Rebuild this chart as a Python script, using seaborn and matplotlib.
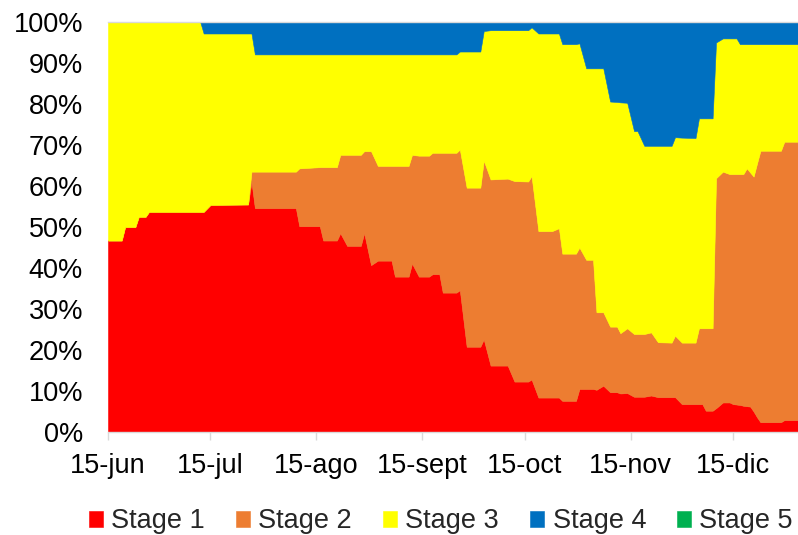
import numpy as np
import pandas as pd
import matplotlib
matplotlib.use("Agg")
import matplotlib.pyplot as plt
import seaborn as sns

# ---- data (share of each stage, %) ----
start_date = "2020-06-15"
day_offset = [0, 4, 5, 8, 9, 11, 12, 27, 28, 30, 41, 42, 43, 55, 56, 62, 63, 67, 68, 70,
              74, 75, 77, 79, 83, 84, 88, 89, 91, 94, 95, 97, 98, 102, 103, 105, 109, 110, 112, 117,
              119, 123, 124, 126, 130, 132, 133, 137, 138, 140, 142, 143, 145, 147, 149, 150, 152, 154, 155, 157,
              159, 161, 165, 166, 168, 172, 173, 174, 175, 177, 178, 180, 182, 183, 184, 185, 186, 187, 188, 189,
              190, 191, 197, 198, 202]
stage1 = [46.7, 46.7, 50.0, 50.0, 52.5, 52.5, 53.7, 53.7, 53.7, 55.4, 55.5, 61.0, 54.6, 54.6, 50.2, 50.2, 46.7, 46.7, 48.5, 45.4,
          45.4, 48.5, 40.7, 41.8, 41.8, 37.9, 37.9, 41.1, 37.9, 37.9, 38.5, 38.5, 34.0, 34.0, 34.6, 20.8, 20.8, 22.6, 16.2, 16.2,
          12.3, 12.3, 12.8, 8.4, 8.4, 8.4, 7.6, 7.6, 10.5, 10.5, 10.5, 10.3, 11.3, 9.7, 9.7, 9.4, 9.5, 8.6, 8.6, 8.6,
          8.9, 8.5, 8.5, 8.5, 6.8, 6.8, 6.8, 6.8, 5.2, 5.2, 5.8, 7.2, 7.2, 6.8, 6.7, 6.6, 6.4, 6.3, 6.2, 5.0,
          3.6, 2.4, 2.4, 2.9, 2.9]
stage2 = [0, 0, 0, 0, 0, 0, 0, 0, 0, 0, 0, 2.5, 8.9, 8.9, 14.1, 14.4, 17.9, 17.9, 19.1, 22.2,
          22.2, 20.0, 27.8, 23.1, 23.1, 27.0, 27.0, 26.5, 29.5, 29.5, 29.6, 29.6, 34.1, 34.1, 34.3, 38.8, 38.8, 43.6, 45.4, 45.6,
          48.9, 48.8, 49.6, 40.6, 40.6, 41.3, 35.9, 35.9, 34.5, 31.5, 31.5, 18.9, 17.9, 16.0, 16.0, 14.7, 15.8, 15.3, 15.3, 15.3,
          15.4, 13.4, 13.3, 15.0, 15.0, 15.0, 18.5, 18.5, 20.1, 20.1, 56.1, 56.3, 55.7, 56.1, 56.2, 56.3, 56.5, 58.0, 57.1, 57.3,
          61.9, 66.2, 66.2, 67.9, 67.9]
stage3 = [53.3, 53.3, 50.0, 50.0, 47.5, 47.5, 46.3, 46.3, 43.5, 41.8, 41.7, 33.7, 28.6, 28.6, 27.8, 27.5, 27.5, 27.5, 24.5, 24.5,
          24.5, 23.6, 23.6, 27.2, 27.2, 27.2, 27.2, 24.5, 24.7, 24.7, 24.0, 24.0, 24.0, 24.0, 23.9, 33.2, 33.2, 31.6, 36.4, 36.2,
          36.8, 36.9, 36.3, 48.2, 48.2, 47.5, 51.1, 51.1, 49.8, 46.7, 46.7, 59.5, 59.5, 54.9, 54.8, 56.3, 55.0, 49.5, 49.5, 45.9,
          45.5, 47.9, 48.0, 48.4, 50.0, 49.9, 51.2, 51.2, 51.2, 51.2, 33.1, 32.5, 33.1, 33.1, 33.1, 31.7, 31.7, 30.3, 31.3, 32.3,
          29.1, 26.0, 26.0, 23.8, 23.8]
stage4 = [0, 0, 0, 0, 0, 0, 0, 0, 2.8, 2.8, 2.8, 2.8, 7.9, 7.9, 7.9, 7.9, 7.9, 7.9, 7.9, 7.9,
          7.9, 7.9, 7.9, 7.9, 7.9, 7.9, 7.9, 7.9, 7.9, 7.9, 7.9, 7.9, 7.9, 7.9, 7.2, 7.2, 7.2, 2.2, 2.0, 2.0,
          2.0, 2.0, 1.3, 2.8, 2.8, 2.8, 5.4, 5.4, 5.2, 11.3, 11.3, 11.3, 11.3, 19.4, 19.5, 19.6, 19.7, 26.6, 26.6, 30.2,
          30.2, 30.2, 30.2, 28.1, 28.2, 28.3, 23.5, 23.5, 23.5, 23.5, 5.0, 4.0, 4.0, 4.0, 4.0, 5.4, 5.4, 5.4, 5.4, 5.4,
          5.4, 5.4, 5.4, 5.4, 5.4]
stage5 = [0] * len(day_offset)

stage_names = ["Stage 1", "Stage 2", "Stage 3", "Stage 4", "Stage 5"]
stage_colors = ["#FF0000", "#ED7D31", "#FFFF00", "#0070C0", "#00B050"]
tick_dates = ["2020-06-15", "2020-07-15", "2020-08-15", "2020-09-15", "2020-10-15", "2020-11-15", "2020-12-15"]
tick_labels = ["15-jun", "15-jul", "15-ago", "15-sept", "15-oct", "15-nov", "15-dic"]
y_ticks = [0, 10, 20, 30, 40, 50, 60, 70, 80, 90, 100]

# ---- style ----
sns.set_theme(style="white")
plt.rcParams["font.family"] = ["Liberation Sans", "DejaVu Sans"]

dates = pd.to_datetime(start_date) + pd.to_timedelta(day_offset, unit="D")
df = pd.DataFrame({"date": dates, "Stage 1": stage1, "Stage 2": stage2,
                   "Stage 3": stage3, "Stage 4": stage4, "Stage 5": stage5})

fig = plt.figure(figsize=(7.98, 5.35), dpi=100)
ax = fig.add_axes([108 / 798, (535 - 432) / 535, 690 / 798, 410 / 535])

palette = sns.color_palette(stage_colors)
polys = ax.stackplot(df["date"], [df[s] for s in stage_names], labels=stage_names,
                     colors=palette, linewidth=0.4)
for p, c in zip(polys, palette):
    p.set_edgecolor(c)

ax.set_xlim(dates[0], dates[-1])
ax.set_ylim(0, 100)
ax.set_yticks(y_ticks)
ax.set_yticklabels([f"{v}%" for v in y_ticks])
ax.set_xticks(pd.to_datetime(tick_dates))
ax.set_xticklabels(tick_labels)

ax.tick_params(axis="y", length=0, pad=18, labelsize=19.5, labelcolor="#000000")
ax.tick_params(axis="x", length=5.8, width=1, color="#D9D9D9", pad=9,
               labelsize=19.5, labelcolor="#000000", direction="out", bottom=True)
for side in ["left", "right"]:
    ax.spines[side].set_visible(False)
for side in ["top", "bottom"]:
    ax.spines[side].set_visible(True)
    ax.spines[side].set_color("#D9D9D9")
    ax.spines[side].set_linewidth(1)
ax.set_xlabel("")
ax.set_ylabel("")
ax.grid(False)

fig.legend(polys, stage_names, loc="center", bbox_to_anchor=(441 / 798, 1 - 521.5 / 535),
           ncol=5, frameon=False, fontsize=19.5, handlelength=0.52, handleheight=0.52,
           handletextpad=0.3, columnspacing=1.15, borderpad=0, borderaxespad=0)

fig.savefig("out.png", dpi=100)
